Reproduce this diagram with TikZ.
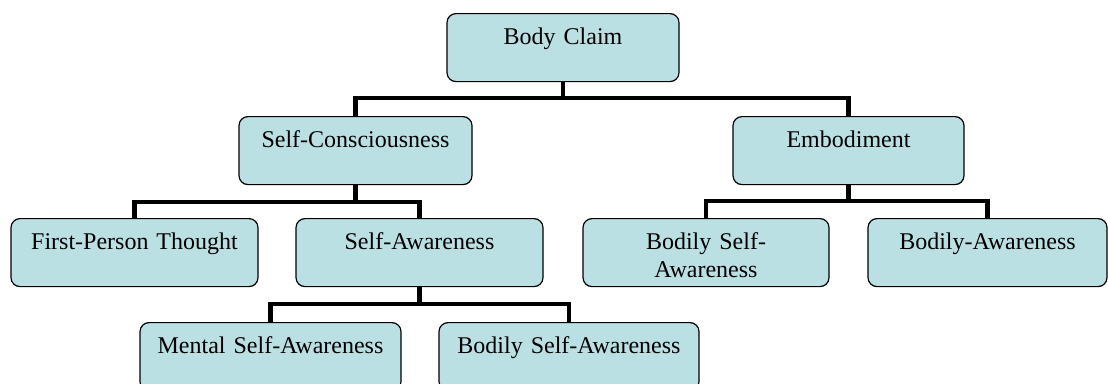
\documentclass[tikz,border=0pt]{standalone}
\usepackage{fontspec}
\setmainfont{Liberation Serif}
\usepackage{tikz}
\definecolor{boxfill}{RGB}{187,224,227}

\begin{document}
\begin{tikzpicture}[x=1pt,y=-1pt,
  box/.style={draw, line width=1.2pt, rounded corners=9pt, fill=boxfill, anchor=north,
    inner sep=0pt, align=center, text height=31pt, text depth=37pt,
    font=\fontsize{24}{28}\selectfont},
  bar/.style={line width=4.5pt}]
\useasboundingbox (0,0) rectangle (1108,383);
\node[box, text width=232pt] (claim) at (563,13) {Body Claim};
\node[box, text width=233pt] (selfcon) at (355.5,116) {Self-Consciousness};
\node[box, text width=231pt] (embod) at (848.5,116) {Embodiment};
\node[box, text width=247pt] (fpt) at (134.5,218) {First-Person Thought};
\node[box, text width=247pt] (selfaw) at (419.5,218) {Self-Awareness};
\node[box, text width=246pt] (bodself) at (706,218) {Bodily Self-\\Awareness};
\node[box, text width=239pt] (bodaw) at (987.5,218) {Bodily-Awareness};
\node[box, text width=261pt] (mental) at (270.5,322) {Mental Self-Awareness};
\node[box, text width=260pt] (bodselfaw) at (569,322) {Bodily Self-Awareness};
\coordinate (j1) at (563,98);
\coordinate (j2) at (355.5,202);
\coordinate (j3) at (848.5,201);
\coordinate (j4) at (419.5,304);
\draw[bar] (claim.south) -- (j1);
\draw[bar] (selfcon.north) |- (j1) -| (embod.north);
\draw[bar] (selfcon.south) -- (j2);
\draw[bar] (fpt.north) |- (j2) -| (selfaw.north);
\draw[bar] (embod.south) -- (j3);
\draw[bar] (bodself.north) |- (j3) -| (bodaw.north);
\draw[bar] (selfaw.south) -- (j4);
\draw[bar] (mental.north) |- (j4) -| (bodselfaw.north);
\end{tikzpicture}
\end{document}
